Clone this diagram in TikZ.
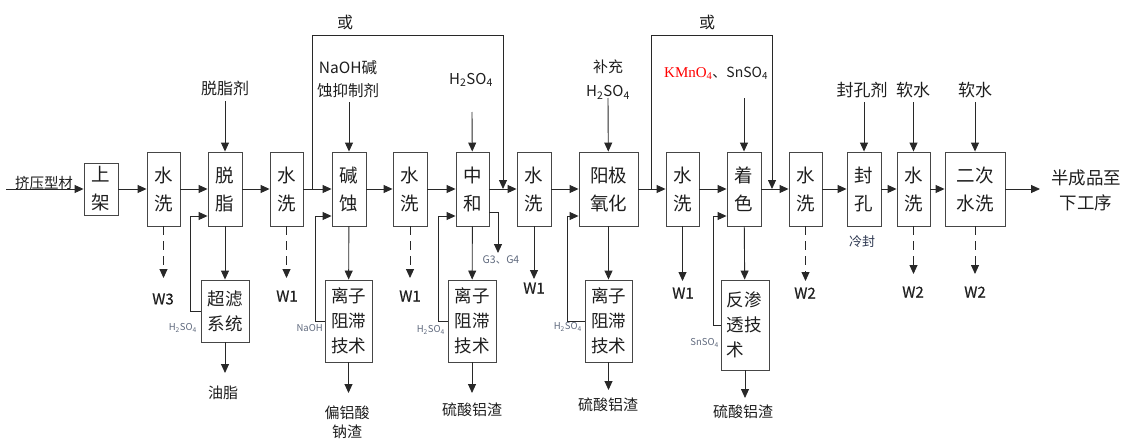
\documentclass[tikz,border=0pt]{standalone}
\usepackage{fontspec}
\setmainfont{Noto Sans CJK SC}
\newfontfamily\serifen{Liberation Serif}
\newfontfamily\wfont[FakeBold=0.5]{Noto Sans CJK SC}
\usetikzlibrary{arrows.meta}
\definecolor{linec}{RGB}{40,40,40}
\definecolor{boxc}{RGB}{70,70,70}
\definecolor{txt}{RGB}{30,30,30}
\definecolor{lblc}{RGB}{95,105,125}
\definecolor{lfc}{RGB}{45,55,80}
\begin{document}
\begin{tikzpicture}[x=1pt,y=-1pt,
  box/.style={draw=boxc, line width=0.9pt, inner sep=0pt, align=center, text=txt, font=\fontsize{18.5}{28}\selectfont},
  sub/.style={box, font=\fontsize{17.5}{25}\selectfont},
  arr/.style={draw=linec, line width=0.9pt, -{Triangle[length=9pt,width=8pt]}},
  dsh/.style={arr, dash pattern=on 9pt off 6pt},
  lab/.style={font=\fontsize{16}{23}\selectfont, text=txt, inner sep=0pt, align=center},
  bot/.style={lab, font=\fontsize{15}{19}\selectfont},
  wl/.style={font=\wfont\fontsize{15}{17}\selectfont, text=txt, inner sep=0pt},
  sm/.style={font=\fontsize{9.5}{11}\selectfont, text=lblc, inner sep=0pt},
]
\useasboundingbox (0,0) rectangle (1124,439);

% main row
\node[box, minimum width=34, minimum height=52] (sj) at (101,189) {上\\架};
\node[box, minimum width=33, minimum height=74] (sx1) at (163.5,189) {水\\洗};
\node[box, minimum width=34, minimum height=74] (tz) at (225,189) {脱\\脂};
\node[box, minimum width=33, minimum height=74] (sx2) at (286.5,189) {水\\洗};
\node[box, minimum width=34, minimum height=74] (js) at (349,189) {碱\\蚀};
\node[box, minimum width=34, minimum height=74] (sx3) at (410,189) {水\\洗};
\node[box, minimum width=33, minimum height=74] (zh) at (472.5,189) {中\\和};
\node[box, minimum width=34, minimum height=74] (sx4) at (534,189) {水\\洗};
\node[box, minimum width=59, minimum height=74] (yj) at (608.5,189) {阳极\\氧化};
\node[box, minimum width=33, minimum height=74] (sx5) at (682.5,189) {水\\洗};
\node[box, minimum width=34, minimum height=74] (zs) at (744,189) {着\\色};
\node[box, minimum width=33, minimum height=74] (sx6) at (805.5,189) {水\\洗};
\node[box, minimum width=34, minimum height=74] (fk) at (864,189) {封\\孔};
\node[box, minimum width=33, minimum height=74] (sx7) at (913.5,189) {水\\洗};
\node[box, minimum width=60, minimum height=74] (ec) at (975,189) {二次\\水洗};

% sub boxes
\node[sub, minimum width=48, minimum height=62] (cl) at (225,311) {超滤\\系统};
\node[sub, minimum width=47, minimum height=82] (lz1) at (348.5,321) {离子\\阻滞\\技术};
\node[sub, minimum width=48, minimum height=82] (lz2) at (472,321) {离子\\阻滞\\技术};
\node[sub, minimum width=47, minimum height=82] (lz3) at (608.5,321) {离子\\阻滞\\技术};
\node[sub, minimum width=48, minimum height=90, align=left, text width=37] (fs) at (745,325) {反渗\\透技\\术};

% input / output
\coordinate (in) at (6,189);
\node[font=\fontsize{14.5}{16}\selectfont, text=txt, inner sep=1pt, anchor=south] (inlab) at (44,191) {挤压型材};
\node[lab, font=\fontsize{17.5}{25}\selectfont] (out) at (1086,190.5) {半成品至\\下工序};
\coordinate (outa) at (1040,189);

% main arrows
\draw[arr] (in) -- (sj);
\draw[arr] (sj) -- (sx1);
\draw[arr] (sx1) -- (tz);
\draw[arr] (tz) -- (sx2);
\draw[arr] (sx2) -- (js);
\draw[arr] (js) -- (sx3);
\draw[arr] (sx3) -- (zh);
\draw[arr] (zh) -- (sx4);
\draw[arr] (sx4) -- (yj);
\draw[arr] (yj) -- (sx5);
\draw[arr] (sx5) -- (zs);
\draw[arr] (zs) -- (sx6);
\draw[arr] (sx6) -- (fk);
\draw[arr] (fk) -- (sx7);
\draw[arr] (sx7) -- (ec);
\draw[arr] (ec) -- (outa);

% top inputs
\node[lab] (l1) at (225,88) {脱脂剂};
\coordinate (l1a) at (225,101);
\draw[arr] (l1a) -- (tz);
\node[lab, font=\fontsize{15.5}{23}\selectfont] (l2) at (348,79) {NaOH碱\\蚀抑制剂};
\coordinate (l2a) at (349,102);
\draw[arr] (l2a) -- (js);
\node[lab, font=\fontsize{15}{23}\selectfont] (l3) at (471,80) {H\textsubscript{2}SO\textsubscript{4}};
\coordinate (l3a) at (472,112);
\draw[arr] (l3a) -- (zh);
\node[lab, font=\fontsize{15}{24}\selectfont] (l4) at (608,80) {补充\\H\textsubscript{2}SO\textsubscript{4}};
\coordinate (l4a) at (608,98);
\draw[arr] (l4a) -- (yj);
\node[lab, font=\fontsize{14}{20}\selectfont, anchor=west] (l5) at (664,73) {{\serifen\fontsize{15}{20}\selectfont\color{red}KMnO\textsubscript{4}}、SnSO\textsubscript{4}};
\coordinate (l5a) at (744,98);
\draw[arr] (l5a) -- (zs);
\node[lab, font=\fontsize{17}{23}\selectfont] (l6) at (862,90) {封孔剂};
\coordinate (l6a) at (864,102);
\draw[arr] (l6a) -- (fk);
\node[lab, font=\fontsize{17}{23}\selectfont] (l7) at (913,90) {软水};
\coordinate (l7a) at (913.5,102);
\draw[arr] (l7a) -- (sx7);
\node[lab, font=\fontsize{17}{23}\selectfont] (l8) at (975,90) {软水};
\coordinate (l8a) at (975,102);
\draw[arr] (l8a) -- (ec);

% bypass "or"
\coordinate (b1s) at (312,189);
\coordinate (b1e) at (503,189);
\draw[arr] (b1s) -- (312,35) -- (503,35) -- (b1e);
\node[lab, font=\fontsize{16}{18}\selectfont] (or1) at (345,22) {或};
\coordinate (b2s) at (651,189);
\coordinate (b2e) at (772,189);
\draw[arr] (b2s) -- (651,35) -- (772,35) -- (b2e);
\node[lab, font=\fontsize{16}{18}\selectfont] (or2) at (707,22) {或};

% waste water
\coordinate (w3a) at (163.5,278);
\draw[dsh] (sx1) -- (w3a);
\node[wl] (w3) at (163,299) {W3};
\coordinate (w1a) at (286.5,278);
\draw[dsh] (sx2) -- (w1a);
\node[wl] (w1) at (287,296) {W1};
\coordinate (w1b) at (410,278);
\draw[dsh] (sx3) -- (w1b);
\node[wl] (w1x) at (410,296) {W1};
\coordinate (w1c) at (534,279);
\draw[arr] (sx4) -- (w1c);
\node[wl] (w1y) at (534,288) {W1};
\coordinate (w1d) at (682.5,281);
\draw[arr] (sx5) -- (w1d);
\node[wl] (w1z) at (683,293) {W1};
\coordinate (w2a) at (805.5,281);
\draw[dsh] (sx6) -- (w2a);
\node[wl] (w2) at (805,293) {W2};
\coordinate (w2b) at (913.5,274);
\draw[dsh] (sx7) -- (w2b);
\node[wl] (w2x) at (913,292) {W2};
\coordinate (w2c) at (975,274);
\draw[dsh] (ec) -- (w2c);
\node[wl] (w2y) at (975,292) {W2};

% degreasing loop
\draw[arr] (tz) -- (cl);
\coordinate (f1) at (190,216);
\draw[arr] (cl.west) -| (f1) -- (tz.west |- f1);
\node[sm, anchor=east] (s1) at (197,328) {H\textsubscript{2}SO\textsubscript{4}};
\coordinate (c1) at (225,373);
\draw[arr] (cl) -- (c1);
\node[bot] (o1) at (223,393) {油脂};

% etching loop
\draw[arr] (js) -- (lz1);
\coordinate (f2) at (315,216);
\draw[arr] (lz1.west) -| (f2) -- (js.west |- f2);
\node[sm, anchor=east] (s2) at (323,328) {NaOH};
\coordinate (c2) at (348.5,393);
\draw[arr] (lz1) -- (c2);
\node[bot] (o2) at (347,422) {偏铝酸\\钠渣};

% neutralization loop
\draw[arr] (zh) -- (lz2);
\coordinate (f3) at (438,216);
\draw[arr] (lz2.west) -| (f3) -- (zh.west |- f3);
\node[sm, anchor=east] (s3) at (445,330) {H\textsubscript{2}SO\textsubscript{4}};
\coordinate (c3) at (472,393);
\draw[arr] (lz2) -- (c3);
\node[bot] (o3) at (472,410) {硫酸铝渣};
\coordinate (g1) at (498,212);
\coordinate (g2) at (498,253);
\draw[arr] (zh.east |- g1) -- (g1) -- (g2);
\node[sm, font=\fontsize{10.5}{12}\selectfont] (g) at (501,260) {G3、G4};

% anodizing loop
\draw[arr] (yj) -- (lz3);
\coordinate (f4) at (567,216);
\draw[arr] (lz3.west) -| (f4) -- (yj.west |- f4);
\node[sm, anchor=east] (s4) at (582,327) {H\textsubscript{2}SO\textsubscript{4}};
\coordinate (c4) at (608.5,390);
\draw[arr] (lz3) -- (c4);
\node[bot] (o4) at (608,405) {硫酸铝渣};

% coloring loop
\draw[arr] (zs) -- (fs);
\coordinate (f5) at (713,216);
\coordinate (f5b) at (713,325);
\draw[arr] (fs.west |- f5b) -- (f5b) -- (f5) -- (zs.west |- f5);
\node[sm, anchor=east] (s5) at (719,343) {SnSO\textsubscript{4}};
\coordinate (c5) at (745,398);
\draw[arr] (fs) -- (c5);
\node[bot] (o5) at (743,412) {硫酸铝渣};

\node[font=\fontsize{13}{15}\selectfont, text=lfc, inner sep=0pt] (lf) at (862,242) {冷封};
\end{tikzpicture}
\end{document}
